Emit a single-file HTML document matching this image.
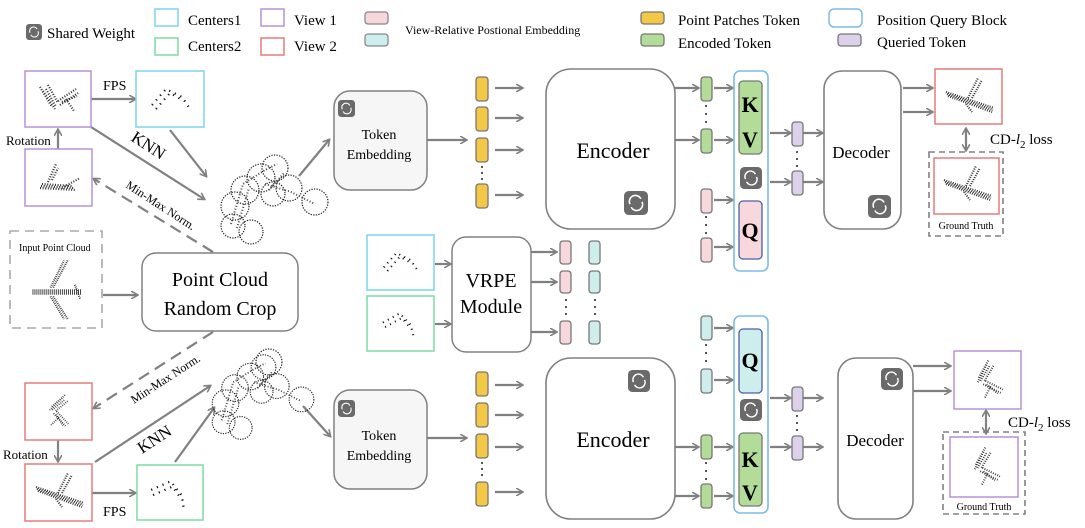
<!DOCTYPE html>
<html><head><meta charset="utf-8"><style>
body{margin:0;background:#fff}
svg{display:block;font-family:"Liberation Serif",serif}
</style></head><body>
<svg width="1085" height="528" viewBox="0 0 1085 528" xmlns="http://www.w3.org/2000/svg">
<defs>
<marker id="a" markerWidth="8" markerHeight="8" refX="6" refY="4" orient="auto" markerUnits="userSpaceOnUse"><path d="M0,0 L7,4 L0,8" fill="none" stroke="#808080" stroke-width="1.6"/></marker>
<marker id="as" markerWidth="8" markerHeight="8" refX="6" refY="4" orient="auto-start-reverse" markerUnits="userSpaceOnUse"><path d="M0,0 L7,4 L0,8" fill="none" stroke="#808080" stroke-width="1.6"/></marker>
<g id="ic"><rect x="0" y="0" width="20" height="20" rx="4" fill="#6a6a6a"/><path d="M5,11 A5,5 0 0 1 14,6.5 M15,9 A5,5 0 0 1 6,13.5" fill="none" stroke="#fff" stroke-width="1.3"/></g>
<g id="pc1"><path d="M-18,-12 L-6,8 M-15,-8 L-3,10 M-12,-10 L-2,8 M-10,-14 L0,4 M0,2 L18,-10 M2,6 L20,-6 M4,3 L19,-3 M8,0 L16,12" stroke="#333" stroke-width="2.2" stroke-dasharray="1 1.6" fill="none"/></g>
<g id="pc2"><path d="M-18,10 L18,12 M-16,6 L14,8 M-17,8 L16,10 M-10,4 L-2,-14 M-6,2 L0,-10 M4,10 L22,0" stroke="#333" stroke-width="2.2" stroke-dasharray="1 1.6" fill="none"/></g>
<g id="ctr"><path d="M-18,6 L-4,-10 L12,-2 L20,10 M-14,10 L0,-6 L14,2" stroke="#111" stroke-width="2.2" stroke-dasharray="1.2 5" fill="none"/></g>
<g id="plane"><path d="M-25,-2 L30,-2 M-25,2 L30,2 M-25,0 L30,0 M-5,-5 L10,-35 M-2,-5 L14,-35 M-5,5 L10,30 M-2,5 L14,30 M22,-8 L28,8" stroke="#333" stroke-width="2.2" stroke-dasharray="1 1.2" fill="none"/></g>
<g id="plane2"><path d="M-22,-6 L26,10 M-20,-2 L24,14 M-21,-4 L25,12 M0,0 L10,-20 M4,0 L14,-18 M-2,6 L4,14" stroke="#333" stroke-width="2.1" stroke-dasharray="1 1.3" fill="none"/></g>
<g id="clu"><g fill="none" stroke="#222" stroke-width="1.2" stroke-dasharray="1.3 1.3"><circle cx="0" cy="0" r="14"/><circle cx="16" cy="-12" r="14"/><circle cx="30" cy="-22" r="13"/><circle cx="-10" cy="16" r="14"/><circle cx="-12" cy="36" r="12"/><circle cx="6" cy="42" r="12"/><circle cx="44" cy="-2" r="13"/><circle cx="70" cy="12" r="13"/><circle cx="28" cy="4" r="12"/></g>
<path d="M-14,34 L-2,-6 L20,-20 L32,-26 M-8,38 L4,-2 M20,-6 L46,2 L70,14 M24,0 L40,-18" stroke="#444" stroke-width="2" stroke-dasharray="1 2" fill="none"/></g>
</defs>

<!-- Legend -->
<use href="#ic" transform="translate(26,24) scale(0.8)"/>
<text x="47" y="38" font-size="15">Shared Weight</text>
<rect x="155" y="9" width="23" height="17" fill="none" stroke="#7fd4ef" stroke-width="1.5"/>
<text x="188" y="25" font-size="15">Centers1</text>
<rect x="155" y="38" width="23" height="17" fill="none" stroke="#7edba2" stroke-width="1.5"/>
<text x="188" y="51" font-size="15">Centers2</text>
<rect x="261" y="9" width="23" height="17" fill="none" stroke="#b592d9" stroke-width="1.5"/>
<text x="294" y="25" font-size="15">View 1</text>
<rect x="261" y="38" width="23" height="17" fill="none" stroke="#e47d78" stroke-width="1.5"/>
<text x="294" y="51" font-size="15">View 2</text>
<rect x="365" y="12" width="23" height="12" rx="3" fill="#f8d7dd" stroke="#888" stroke-width="1.3"/>
<rect x="365" y="34" width="23" height="12" rx="3" fill="#cdeeed" stroke="#888" stroke-width="1.3"/>
<text x="405" y="34" font-size="12">View-Relative Postional Embedding</text>
<rect x="641" y="12" width="23" height="12" rx="3" fill="#f3c847" stroke="#777" stroke-width="1.3"/>
<text x="678" y="25" font-size="15">Point Patches Token</text>
<rect x="641" y="34" width="23" height="12" rx="3" fill="#b3dc98" stroke="#777" stroke-width="1.3"/>
<text x="678" y="48" font-size="15">Encoded Token</text>
<rect x="829" y="9" width="33" height="18" rx="5" fill="none" stroke="#7dbbe6" stroke-width="1.5"/>
<text x="877" y="25" font-size="15">Position Query Block</text>
<rect x="838" y="34" width="23" height="12" rx="3" fill="#ddd0ea" stroke="#777" stroke-width="1.3"/>
<text x="877" y="47" font-size="15">Queried Token</text>

<g stroke="#808080" stroke-width="2.2" fill="none">
<line x1="91" y1="99" x2="135" y2="99" marker-end="url(#a)"/>
<line x1="58" y1="149" x2="58" y2="130" marker-end="url(#a)"/>
<line x1="91" y1="127" x2="204" y2="199" marker-end="url(#a)"/>
<line x1="170" y1="130" x2="206" y2="176" marker-end="url(#a)"/>
<line x1="213" y1="252" x2="94" y2="179" stroke-dasharray="12 7" marker-end="url(#a)"/>
<line x1="299" y1="176" x2="329" y2="140" marker-end="url(#a)"/>
<line x1="427" y1="140" x2="466" y2="140" marker-end="url(#a)"/>
<line x1="495" y1="88" x2="522" y2="88" marker-end="url(#a)"/>
<line x1="495" y1="118" x2="522" y2="118" marker-end="url(#a)"/>
<line x1="495" y1="150" x2="522" y2="150" marker-end="url(#a)"/>
<line x1="495" y1="195" x2="522" y2="195" marker-end="url(#a)"/>
<line x1="675" y1="88" x2="698" y2="88" marker-end="url(#a)"/>
<line x1="675" y1="140" x2="698" y2="140" marker-end="url(#a)"/>
<line x1="714" y1="88" x2="732" y2="88" marker-end="url(#a)"/>
<line x1="714" y1="140" x2="732" y2="140" marker-end="url(#a)"/>
<line x1="714" y1="200" x2="732" y2="200" marker-end="url(#a)"/>
<line x1="714" y1="247" x2="732" y2="247" marker-end="url(#a)"/>
<line x1="770" y1="133" x2="790" y2="133" marker-end="url(#a)"/>
<line x1="770" y1="182" x2="790" y2="182" marker-end="url(#a)"/>
<line x1="803" y1="133" x2="822" y2="133" marker-end="url(#a)"/>
<line x1="803" y1="182" x2="822" y2="182" marker-end="url(#a)"/>
<line x1="903" y1="88" x2="932" y2="88" marker-end="url(#a)"/>
<line x1="903" y1="112" x2="932" y2="112" marker-end="url(#a)"/>
<line x1="966" y1="129" x2="966" y2="150" marker-end="url(#as)" marker-start="url(#as)"/>
<line x1="103" y1="295" x2="137" y2="295" marker-end="url(#a)"/>
<line x1="435" y1="264" x2="450" y2="264" marker-end="url(#a)"/>
<line x1="435" y1="324" x2="450" y2="324" marker-end="url(#a)"/>
<line x1="531" y1="252" x2="556" y2="252" marker-end="url(#a)"/>
<line x1="531" y1="282" x2="556" y2="282" marker-end="url(#a)"/>
<line x1="531" y1="332" x2="556" y2="332" marker-end="url(#a)"/>
<line x1="213" y1="332" x2="94" y2="408" stroke-dasharray="12 7" marker-end="url(#a)"/>
<line x1="58" y1="440" x2="58" y2="461" marker-end="url(#a)"/>
<line x1="91" y1="493" x2="135" y2="493" marker-end="url(#a)"/>
<line x1="95" y1="462" x2="210" y2="386" marker-end="url(#a)"/>
<line x1="175" y1="462" x2="214" y2="408" marker-end="url(#a)"/>
<line x1="303" y1="406" x2="330" y2="436" marker-end="url(#a)"/>
<line x1="427" y1="438" x2="466" y2="438" marker-end="url(#a)"/>
<line x1="495" y1="385" x2="522" y2="385" marker-end="url(#a)"/>
<line x1="495" y1="415" x2="522" y2="415" marker-end="url(#a)"/>
<line x1="495" y1="447" x2="522" y2="447" marker-end="url(#a)"/>
<line x1="495" y1="492" x2="522" y2="492" marker-end="url(#a)"/>
<line x1="675" y1="447" x2="698" y2="447" marker-end="url(#a)"/>
<line x1="675" y1="496" x2="698" y2="496" marker-end="url(#a)"/>
<line x1="714" y1="328" x2="732" y2="328" marker-end="url(#a)"/>
<line x1="714" y1="380" x2="732" y2="380" marker-end="url(#a)"/>
<line x1="714" y1="447" x2="732" y2="447" marker-end="url(#a)"/>
<line x1="714" y1="496" x2="732" y2="496" marker-end="url(#a)"/>
<line x1="770" y1="398" x2="790" y2="398" marker-end="url(#a)"/>
<line x1="770" y1="447" x2="790" y2="447" marker-end="url(#a)"/>
<line x1="803" y1="398" x2="822" y2="398" marker-end="url(#a)"/>
<line x1="803" y1="447" x2="822" y2="447" marker-end="url(#a)"/>
<line x1="913" y1="366" x2="950" y2="366" marker-end="url(#a)"/>
<line x1="913" y1="391" x2="950" y2="391" marker-end="url(#a)"/>
<line x1="986" y1="411" x2="986" y2="433" marker-end="url(#as)" marker-start="url(#as)"/>
</g>

<rect x="25" y="71" width="66" height="56" fill="#fff" stroke="#b592d9" stroke-width="1.5"/><use href="#pc1" transform="translate(58,99)"/>
<rect x="136" y="71" width="68" height="56" fill="#fff" stroke="#7fd4ef" stroke-width="1.5"/><use href="#ctr" transform="translate(170,99)"/>
<rect x="25" y="149" width="67" height="57" fill="#fff" stroke="#b592d9" stroke-width="1.5"/><use href="#pc2" transform="translate(58,178)"/>
<text x="103" y="90" font-size="14">FPS</text>
<text x="6" y="145" font-size="13">Rotation</text>
<text x="0" y="0" font-size="17" transform="translate(130,140) rotate(33)">KNN</text>
<text x="0" y="0" font-size="12" transform="translate(125,187) rotate(33)">Min-Max Norm.</text>
<use href="#clu" transform="translate(245,190)"/>

<rect x="334" y="91" width="93" height="99" rx="16" fill="#f6f6f6" stroke="#808080" stroke-width="1.5"/>
<use href="#ic" transform="translate(338,100) scale(0.85)"/>
<text x="379" y="139" font-size="14" text-anchor="middle">Token</text>
<text x="379" y="159" font-size="14" text-anchor="middle">Embedding</text>
<g fill="#f3c847" stroke="#777" stroke-width="1.3">
<rect x="476" y="77" width="12" height="24" rx="3"/><rect x="476" y="107" width="12" height="24" rx="3"/><rect x="476" y="138" width="12" height="24" rx="3"/><rect x="476" y="184" width="12" height="24" rx="3"/>
<rect x="476" y="372" width="12" height="24" rx="3"/><rect x="476" y="403" width="12" height="24" rx="3"/><rect x="476" y="434" width="12" height="24" rx="3"/><rect x="476" y="482" width="12" height="24" rx="3"/>
</g>
<g fill="#222"><circle cx="482" cy="167" r="1"/><circle cx="482" cy="173" r="1"/><circle cx="482" cy="179" r="1"/>
<circle cx="482" cy="463" r="1"/><circle cx="482" cy="469" r="1"/><circle cx="482" cy="475" r="1"/>
<circle cx="706" cy="106" r="1"/><circle cx="706" cy="114" r="1"/><circle cx="706" cy="122" r="1"/>
<circle cx="706" cy="217" r="1"/><circle cx="706" cy="225" r="1"/><circle cx="706" cy="233" r="1"/>
<circle cx="797" cy="152" r="1"/><circle cx="797" cy="159" r="1"/><circle cx="797" cy="166" r="1"/>
<circle cx="706" cy="345" r="1"/><circle cx="706" cy="353" r="1"/><circle cx="706" cy="361" r="1"/>
<circle cx="706" cy="463" r="1"/><circle cx="706" cy="471" r="1"/><circle cx="706" cy="479" r="1"/>
<circle cx="797" cy="416" r="1"/><circle cx="797" cy="423" r="1"/><circle cx="797" cy="430" r="1"/>
<circle cx="566" cy="300" r="1"/><circle cx="566" cy="307" r="1"/><circle cx="566" cy="314" r="1"/>
<circle cx="595" cy="300" r="1"/><circle cx="595" cy="307" r="1"/><circle cx="595" cy="314" r="1"/></g>

<rect x="546" y="69" width="129" height="160" rx="25" fill="#fff" stroke="#808080" stroke-width="1.6"/>
<text x="613" y="158" font-size="22" text-anchor="middle">Encoder</text>
<use href="#ic" transform="translate(624,191) scale(1.2)"/>
<g stroke="#777" stroke-width="1.3">
<rect x="701" y="77" width="11" height="24" rx="3" fill="#b3dc98"/><rect x="701" y="129" width="11" height="24" rx="3" fill="#b3dc98"/>
<rect x="701" y="189" width="11" height="24" rx="3" fill="#f8d7dd"/><rect x="701" y="238" width="11" height="24" rx="3" fill="#f8d7dd"/>
<rect x="792" y="122" width="11" height="24" rx="3" fill="#ddd0ea"/><rect x="792" y="171" width="11" height="24" rx="3" fill="#ddd0ea"/>
</g>
<rect x="734" y="71" width="34" height="200" rx="6" fill="none" stroke="#7dbbe6" stroke-width="1.6"/>
<rect x="739" y="81" width="23" height="73" rx="4" fill="#b3dc98" stroke="#777" stroke-width="1.3"/>
<text x="750" y="112" font-size="22" font-weight="bold" text-anchor="middle">K</text>
<text x="750" y="147" font-size="22" font-weight="bold" text-anchor="middle">V</text>
<use href="#ic" transform="translate(740,167) scale(1.1)"/>
<rect x="739" y="201" width="23" height="58" rx="4" fill="#f8d7dd" stroke="#4a5fa8" stroke-width="1.3"/>
<text x="750" y="238" font-size="22" font-weight="bold" text-anchor="middle">Q</text>
<rect x="824" y="71" width="77" height="158" rx="18" fill="#fff" stroke="#808080" stroke-width="1.6"/>
<text x="861" y="158" font-size="17" text-anchor="middle">Decoder</text>
<use href="#ic" transform="translate(868,195) scale(1.15)"/>
<rect x="935" y="69" width="67" height="55" fill="#fff" stroke="#e47d78" stroke-width="1.5"/><use href="#plane2" transform="translate(968,98)"/>
<text x="990" y="144" font-size="15">CD-<tspan font-style="italic">l</tspan><tspan font-size="11" dy="4">2</tspan><tspan dy="-4"> loss</tspan></text>
<rect x="929" y="152" width="74" height="84" fill="none" stroke="#808080" stroke-width="1.6" stroke-dasharray="6 4"/>
<rect x="934" y="158" width="65" height="56" fill="#fff" stroke="#e47d78" stroke-width="1.5"/><use href="#plane2" transform="translate(966,186)"/>
<text x="966" y="229" font-size="10" text-anchor="middle">Ground Truth</text>

<rect x="10" y="231" width="92" height="97" fill="none" stroke="#aaa" stroke-width="1.6" stroke-dasharray="9 6"/>
<text x="19" y="251" font-size="10">Input Point Cloud</text>
<use href="#plane" transform="translate(55,310) scale(0.9) translate(0,-20)"/>
<rect x="142" y="253" width="156" height="78" rx="14" fill="#fff" stroke="#808080" stroke-width="1.5"/>
<text x="220" y="286" font-size="20" text-anchor="middle">Point Cloud</text>
<text x="220" y="315" font-size="20" text-anchor="middle">Random Crop</text>
<rect x="367" y="235" width="67" height="55" fill="#fff" stroke="#7fd4ef" stroke-width="1.5"/><use href="#ctr" transform="translate(400,262) scale(0.9)"/>
<rect x="367" y="296" width="67" height="55" fill="#fff" stroke="#7edba2" stroke-width="1.5"/><use href="#ctr" transform="translate(400,323) scale(0.9) rotate(20)"/>
<rect x="452" y="237" width="79" height="115" rx="14" fill="#fff" stroke="#808080" stroke-width="1.5"/>
<text x="491" y="287" font-size="20" text-anchor="middle">VRPE</text>
<text x="491" y="313" font-size="20" text-anchor="middle">Module</text>
<g stroke="#777" stroke-width="1.3">
<rect x="560" y="241" width="11" height="23" rx="3" fill="#f8d7dd"/><rect x="560" y="271" width="11" height="22" rx="3" fill="#f8d7dd"/><rect x="560" y="321" width="11" height="23" rx="3" fill="#f8d7dd"/>
<rect x="589" y="241" width="11" height="23" rx="3" fill="#cdeeed"/><rect x="589" y="271" width="11" height="22" rx="3" fill="#cdeeed"/><rect x="589" y="321" width="11" height="23" rx="3" fill="#cdeeed"/>
</g>

<rect x="25" y="383" width="67" height="57" fill="#fff" stroke="#e47d78" stroke-width="1.5"/><use href="#pc1" transform="translate(58,411) rotate(80) scale(0.8)"/>
<rect x="25" y="464" width="67" height="57" fill="#fff" stroke="#e47d78" stroke-width="1.5"/><use href="#plane2" transform="translate(58,493)"/>
<rect x="137" y="465" width="66" height="55" fill="#fff" stroke="#7edba2" stroke-width="1.5"/><use href="#ctr" transform="translate(170,492) rotate(25)"/>
<text x="3" y="459" font-size="13">Rotation</text>
<text x="103" y="516" font-size="14">FPS</text>
<text x="0" y="0" font-size="17" transform="translate(142,454) rotate(-33)">KNN</text>
<text x="0" y="0" font-size="12" transform="translate(134,404) rotate(-33)">Min-Max Norm.</text>
<use href="#clu" transform="translate(235,388) scale(0.95)"/>
<circle cx="269" cy="362" r="13" fill="none" stroke="#222" stroke-width="1.2" stroke-dasharray="1.3 1.3"/>

<rect x="334" y="390" width="93" height="99" rx="16" fill="#f6f6f6" stroke="#808080" stroke-width="1.5"/>
<use href="#ic" transform="translate(338,400) scale(0.85)"/>
<text x="379" y="440" font-size="14" text-anchor="middle">Token</text>
<text x="379" y="460" font-size="14" text-anchor="middle">Embedding</text>
<rect x="546" y="358" width="129" height="161" rx="25" fill="#fff" stroke="#808080" stroke-width="1.6"/>
<text x="613" y="447" font-size="22" text-anchor="middle">Encoder</text>
<use href="#ic" transform="translate(628,370) scale(1.1)"/>
<g stroke="#777" stroke-width="1.3">
<rect x="701" y="316" width="11" height="24" rx="3" fill="#cdeeed"/><rect x="701" y="369" width="11" height="24" rx="3" fill="#cdeeed"/>
<rect x="701" y="435" width="11" height="24" rx="3" fill="#b3dc98"/><rect x="701" y="484" width="11" height="24" rx="3" fill="#b3dc98"/>
<rect x="792" y="387" width="11" height="24" rx="3" fill="#ddd0ea"/><rect x="792" y="436" width="11" height="24" rx="3" fill="#ddd0ea"/>
</g>
<rect x="734" y="316" width="34" height="197" rx="6" fill="none" stroke="#7dbbe6" stroke-width="1.6"/>
<rect x="739" y="329" width="23" height="64" rx="4" fill="#cdeeed" stroke="#4a5fa8" stroke-width="1.3"/>
<text x="750" y="368" font-size="22" font-weight="bold" text-anchor="middle">Q</text>
<use href="#ic" transform="translate(740,399) scale(1.1)"/>
<rect x="739" y="433" width="23" height="73" rx="4" fill="#b3dc98" stroke="#777" stroke-width="1.3"/>
<text x="750" y="467" font-size="22" font-weight="bold" text-anchor="middle">K</text>
<text x="750" y="500" font-size="22" font-weight="bold" text-anchor="middle">V</text>
<rect x="838" y="358" width="75" height="161" rx="18" fill="#fff" stroke="#808080" stroke-width="1.6"/>
<text x="875" y="446" font-size="17" text-anchor="middle">Decoder</text>
<use href="#ic" transform="translate(881,368) scale(1.1)"/>
<rect x="954" y="351" width="67" height="58" fill="#fff" stroke="#b592d9" stroke-width="1.5"/><use href="#pc1" transform="translate(987,380) rotate(60) scale(0.9)"/>
<text x="1008" y="427" font-size="15">CD-<tspan font-style="italic">l</tspan><tspan font-size="11" dy="4">2</tspan><tspan dy="-4"> loss</tspan></text>
<rect x="943" y="432" width="82" height="82" fill="none" stroke="#808080" stroke-width="1.6" stroke-dasharray="6 4"/>
<rect x="950" y="437" width="68" height="60" fill="#fff" stroke="#b592d9" stroke-width="1.5"/><use href="#pc1" transform="translate(984,467) rotate(60) scale(0.9)"/>
<text x="984" y="510" font-size="10" text-anchor="middle">Ground Truth</text>
</svg>
</body></html>
